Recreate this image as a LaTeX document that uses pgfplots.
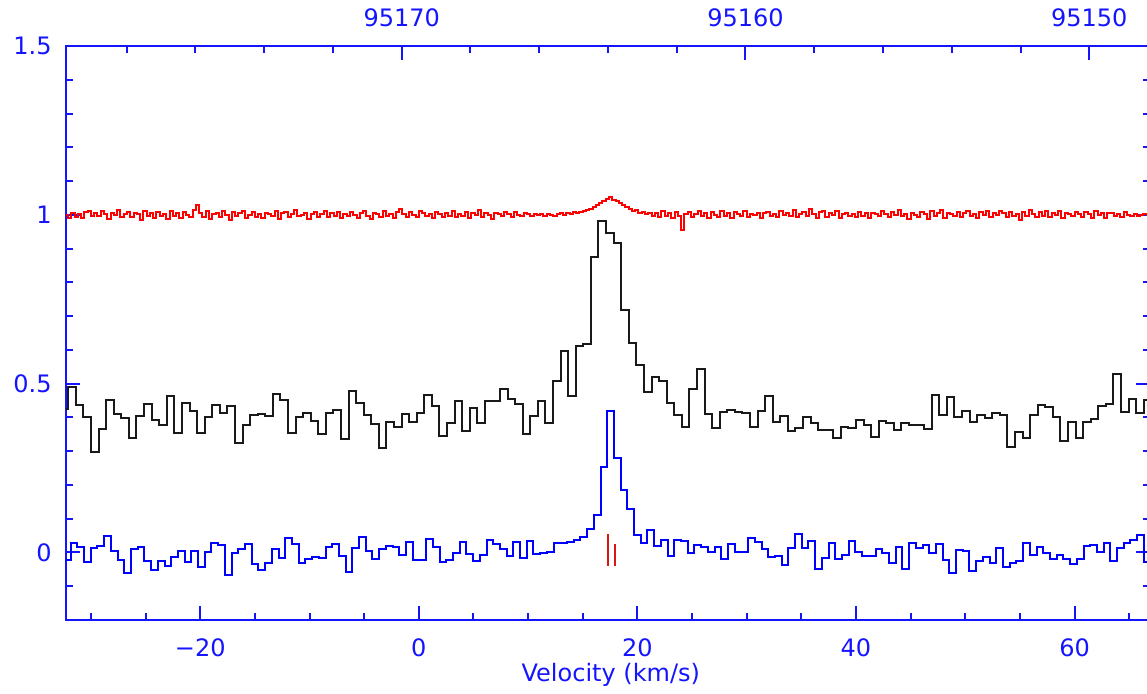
\documentclass[border=0pt]{standalone}
\usepackage{pgfplots}
\pgfplotsset{compat=1.18}
\usepackage{fontspec}
\setmainfont{DejaVu Sans}
\definecolor{axblue}{RGB}{20,20,255}
\definecolor{specred}{RGB}{255,0,0}
\definecolor{specblue}{RGB}{0,0,255}
\definecolor{specblack}{RGB}{25,25,25}
\definecolor{markred}{RGB}{220,20,20}
\begin{document}
\begin{tikzpicture}
\useasboundingbox (-33pt,-36.5pt) rectangle (540.5pt,310pt);
\begin{axis}[
  at={(0pt,0pt)}, anchor=south west,
  scale only axis, width=542pt, height=287pt,
  xmin=-32.28, xmax=66.90, ymin=-0.2, ymax=1.5,
  axis line style={axblue, line width=1pt},
  tick style={axblue, line width=1pt},
  tick align=inside,
  major tick length=7pt, minor tick length=3.5pt,
  xtick={-20,0,20,40,60},
  xticklabels={−20,0,20,40,60},
  minor xtick={-30,-25,-15,-10,-5,5,10,15,25,30,35,45,50,55,65},
  xtick pos=left,
  ytick={0,0.5,1,1.5},
  yticklabels={0,0.5,1,1.5},
  minor ytick={-0.1,0.1,0.2,0.3,0.4,0.6,0.7,0.8,0.9,1.1,1.2,1.3,1.4},
  ytick pos=both,
  yticklabel pos=left,
  tick label style={font=\fontsize{12}{14}\selectfont, text=axblue, inner sep=0pt},
  xticklabel style={anchor=base, yshift=-18pt},
  yticklabel style={anchor=east, xshift=-7pt},
  xlabel={Velocity (km/s)},
  xlabel style={font=\fontsize{12}{14}\selectfont, text=axblue, at={(axis description cs:0.5,0)}, anchor=base, yshift=-30.9pt, xshift=1.4pt, inner sep=0pt},
  every axis plot/.append style={const plot, line width=1pt, mark=none},
]
% red high-resolution spectrum
\addplot[specred] coordinates {
(-32.4,1.000)(-32.1,0.992)(-31.8,1.006)(-31.5,0.995)(-31.2,1.003)(-30.9,0.990)(-30.6,1.008)(-30.3,1.012)(-30.0,0.996)(-29.7,1.004)
(-29.4,0.997)(-29.1,1.010)(-28.8,1.002)(-28.5,0.988)(-28.2,1.005)(-27.9,0.999)(-27.6,1.014)(-27.3,0.994)(-27.0,1.003)(-26.7,1.009)
(-26.4,0.993)(-26.1,1.006)(-25.8,1.001)(-25.5,0.986)(-25.2,1.011)(-24.9,0.998)(-24.6,1.004)(-24.3,0.991)(-24.0,1.007)(-23.7,0.996)
(-23.4,1.002)(-23.1,0.989)(-22.8,1.010)(-22.5,0.997)(-22.2,1.005)(-21.9,0.992)(-21.6,1.009)(-21.3,1.000)(-21.0,0.994)(-20.7,1.015)
(-20.4,1.030)(-20.1,1.004)(-19.8,0.995)(-19.5,1.010)(-19.2,0.988)(-18.9,1.002)(-18.6,1.006)(-18.3,0.993)(-18.0,1.011)(-17.7,0.999)
(-17.4,0.985)(-17.1,1.007)(-16.8,0.996)(-16.5,1.004)(-16.2,1.012)(-15.9,0.991)(-15.6,1.000)(-15.3,1.008)(-15.0,0.994)(-14.7,1.003)
(-14.4,0.990)(-14.1,1.006)(-13.8,1.001)(-13.5,0.997)(-13.2,1.010)(-12.9,0.987)(-12.6,1.004)(-12.3,1.009)(-12.0,0.995)(-11.7,1.002)
(-11.4,1.013)(-11.1,0.996)(-10.8,0.999)(-10.5,1.006)(-10.2,0.989)(-9.9,1.003)(-9.6,1.008)(-9.3,0.993)(-9.0,1.001)(-8.7,1.011)
(-8.4,0.994)(-8.1,1.005)(-7.8,0.998)(-7.5,1.009)(-7.2,0.990)(-6.9,1.002)(-6.6,0.996)(-6.3,1.007)(-6.0,1.000)(-5.7,0.992)
(-5.4,1.004)(-5.1,1.010)(-4.8,0.997)(-4.5,0.989)(-4.2,1.006)(-3.9,1.001)(-3.6,0.994)(-3.3,1.012)(-3.0,0.998)(-2.7,1.003)
(-2.4,0.991)(-2.1,1.007)(-1.8,1.016)(-1.5,1.002)(-1.2,0.995)(-0.9,1.008)(-0.6,0.999)(-0.3,0.993)(0.0,1.010)(0.3,1.004)
(0.6,0.996)(0.9,1.003)(1.2,0.990)(1.5,1.009)(1.8,1.001)(2.1,0.995)(2.4,1.006)(2.7,0.998)(3.0,1.011)(3.3,0.993)
(3.6,1.002)(3.9,0.997)(4.2,1.008)(4.5,0.992)(4.8,1.004)(5.1,1.000)(5.4,1.013)(5.7,0.995)(6.0,1.006)(6.3,0.999)
(6.6,0.988)(6.9,1.005)(7.2,1.001)(7.5,0.996)(7.8,1.009)(8.1,1.003)(8.4,0.994)(8.7,1.007)(9.0,1.000)(9.3,0.997)
(9.6,1.004)(9.9,1.002)(10.2,0.996)(10.5,1.001)(10.8,0.999)(11.1,1.003)(11.4,0.998)(11.7,1.002)(12.0,1.000)(12.3,0.997)
(12.6,1.002)(12.9,1.004)(13.2,0.999)(13.5,1.006)(13.8,1.003)(14.1,1.007)(14.4,1.005)(14.7,1.009)(15.0,1.011)(15.3,1.014)
(15.6,1.018)(15.9,1.022)(16.2,1.028)(16.5,1.034)(16.8,1.040)(17.1,1.046)(17.4,1.053)(17.7,1.043)(18.0,1.040)(18.3,1.034)
(18.6,1.030)(18.9,1.024)(19.2,1.018)(19.5,1.012)(19.8,1.014)(20.1,1.006)(20.4,1.009)(20.7,1.001)(21.0,1.005)(21.3,0.997)
(21.6,1.006)(21.9,0.993)(22.2,1.010)(22.5,0.998)(22.8,1.004)(23.1,0.990)(23.4,1.008)(23.7,0.996)(24.0,0.956)(24.3,1.002)
(24.6,1.009)(24.9,0.994)(25.2,1.003)(25.5,1.011)(25.8,0.997)(26.1,1.005)(26.4,0.991)(26.7,1.007)(27.0,1.000)(27.3,0.995)
(27.6,1.012)(27.9,0.998)(28.2,1.004)(28.5,0.990)(28.8,1.008)(29.1,1.001)(29.4,0.996)(29.7,1.010)(30.0,0.993)(30.3,1.003)
(30.6,0.999)(30.9,1.006)(31.2,0.991)(31.5,1.004)(31.8,1.009)(32.1,0.997)(32.4,1.002)(32.7,0.994)(33.0,1.011)(33.3,1.000)
(33.6,1.005)(33.9,0.996)(34.2,1.013)(34.5,0.993)(34.8,1.003)(35.1,1.008)(35.4,0.998)(35.7,1.016)(36.0,1.001)(36.3,0.991)
(36.6,1.007)(36.9,1.012)(37.2,0.995)(37.5,1.004)(37.8,0.999)(38.1,1.010)(38.4,0.992)(38.7,1.003)(39.0,1.006)(39.3,0.997)
(39.6,1.002)(39.9,0.994)(40.2,1.009)(40.5,0.998)(40.8,1.005)(41.1,0.990)(41.4,1.004)(41.7,1.001)(42.0,0.996)(42.3,1.011)
(42.6,1.003)(42.9,0.993)(43.2,1.007)(43.5,0.999)(43.8,1.014)(44.1,0.996)(44.4,1.002)(44.7,0.989)(45.0,1.006)(45.3,1.000)
(45.6,0.995)(45.9,1.008)(46.2,1.003)(46.5,0.987)(46.8,1.010)(47.1,0.998)(47.4,1.004)(47.7,1.013)(48.0,0.992)(48.3,1.006)
(48.6,1.001)(48.9,0.996)(49.2,1.009)(49.5,0.994)(49.8,1.005)(50.1,1.011)(50.4,0.997)(50.7,1.003)(51.0,0.990)(51.3,1.007)
(51.6,1.000)(51.9,1.010)(52.2,0.993)(52.5,1.006)(52.8,0.999)(53.1,1.012)(53.4,1.004)(53.7,0.995)(54.0,1.008)(54.3,0.997)
(54.6,1.003)(54.9,0.984)(55.2,1.009)(55.5,0.996)(55.8,1.014)(56.1,1.001)(56.4,0.993)(56.7,1.007)(57.0,0.998)(57.3,1.011)
(57.6,0.994)(57.9,1.005)(58.2,1.000)(58.5,1.012)(58.8,0.991)(59.1,1.006)(59.4,1.003)(59.7,0.997)(60.0,1.009)(60.3,1.001)
(60.6,0.995)(60.9,1.008)(61.2,1.002)(61.5,0.992)(61.8,1.010)(62.1,0.999)(62.4,1.005)(62.7,0.990)(63.0,1.004)(63.3,1.006)
(63.6,0.997)(63.9,1.003)(64.2,0.993)(64.5,1.007)(64.8,1.000)(65.1,0.996)(65.4,1.002)(65.7,0.998)(66.0,0.999)(66.3,1.001)(66.6,1.000)(66.9,1.000)
};
% black spectrum
\addplot[specblack] coordinates {
(-32.76,0.426)(-32.07,0.490)(-31.38,0.436)(-30.68,0.401)(-29.99,0.298)(-29.30,0.365)(-28.61,0.451)(-27.91,0.411)(-27.22,0.398)(-26.53,0.340)
(-25.83,0.404)(-25.14,0.441)(-24.45,0.391)(-23.75,0.377)(-23.06,0.463)(-22.37,0.355)(-21.68,0.444)(-20.98,0.418)(-20.29,0.355)(-19.60,0.401)
(-18.90,0.436)(-18.21,0.414)(-17.52,0.433)(-16.82,0.325)(-16.13,0.377)(-15.44,0.408)(-14.75,0.411)(-14.05,0.404)(-13.36,0.468)(-12.67,0.451)
(-11.97,0.354)(-11.28,0.401)(-10.59,0.414)(-9.89,0.388)(-9.20,0.350)(-8.51,0.414)(-7.82,0.423)(-7.12,0.335)(-6.43,0.477)(-5.74,0.443)
(-5.04,0.406)(-4.35,0.380)(-3.66,0.310)(-2.96,0.385)(-2.27,0.372)(-1.58,0.411)(-0.89,0.386)(-0.19,0.414)(0.50,0.465)(1.19,0.433)
(1.89,0.345)(2.58,0.383)(3.27,0.449)(3.97,0.360)(4.66,0.429)(5.35,0.383)(6.05,0.448)(6.74,0.449)(7.43,0.483)(8.12,0.454)
(8.82,0.439)(9.51,0.350)(10.20,0.403)(10.90,0.448)(11.59,0.382)(12.28,0.508)(12.98,0.596)(13.67,0.463)(14.36,0.611)(15.05,0.616)
(15.75,0.875)(16.44,0.983)(17.13,0.946)(17.83,0.916)(18.52,0.717)(19.21,0.621)(19.91,0.556)(20.60,0.475)(21.29,0.520)(21.98,0.508)
(22.68,0.444)(23.37,0.408)(24.06,0.372)(24.76,0.483)(25.45,0.542)(26.14,0.411)(26.84,0.369)(27.53,0.416)(28.22,0.421)(28.91,0.416)
(29.61,0.414)(30.30,0.372)(30.99,0.419)(31.69,0.462)(32.38,0.386)(33.07,0.403)(33.77,0.359)(34.46,0.369)(35.15,0.401)(35.84,0.383)
(36.54,0.364)(37.23,0.362)(37.92,0.340)(38.62,0.372)(39.31,0.369)(40.00,0.393)(40.70,0.379)(41.39,0.342)(42.08,0.389)(42.77,0.382)
(43.47,0.362)(44.16,0.383)(44.85,0.377)(45.55,0.379)(46.24,0.365)(46.93,0.465)(47.63,0.408)(48.32,0.460)(49.01,0.401)(49.70,0.419)
(50.40,0.386)(51.09,0.408)(51.78,0.398)(52.48,0.414)(53.17,0.408)(53.86,0.311)(54.56,0.357)(55.25,0.339)(55.94,0.408)(56.63,0.438)
(57.33,0.431)(58.02,0.401)(58.71,0.329)(59.41,0.386)(60.10,0.340)(60.79,0.386)(61.49,0.394)(62.18,0.434)(62.87,0.441)(63.56,0.528)
(64.26,0.416)(64.95,0.454)(65.64,0.414)(66.34,0.451)(67.03,0.451)
};
% blue spectrum
\addplot[specblue] coordinates {
(-32.47,-0.023)(-31.85,0.028)(-31.24,0.017)(-30.63,-0.028)(-30.01,0.012)(-29.40,0.020)(-28.79,0.048)(-28.17,0.005)(-27.56,-0.023)(-26.94,-0.062)
(-26.33,0.010)(-25.72,0.015)(-25.10,-0.026)(-24.49,-0.052)(-23.88,-0.026)(-23.26,-0.041)(-22.65,-0.013)(-22.04,0.005)(-21.42,-0.028)(-20.81,0.005)
(-20.19,-0.044)(-19.58,0.002)(-18.97,0.027)(-18.35,0.022)(-17.74,-0.067)(-17.13,-0.003)(-16.51,0.010)(-15.90,0.024)(-15.28,-0.035)(-14.67,-0.052)
(-14.06,-0.030)(-13.44,0.009)(-12.83,-0.015)(-12.22,0.044)(-11.60,0.025)(-10.99,-0.030)(-10.37,-0.020)(-9.76,-0.013)(-9.15,-0.015)(-8.53,0.015)
(-7.92,0.024)(-7.31,-0.011)(-6.69,-0.059)(-6.08,0.014)(-5.47,0.046)(-4.85,0.005)(-4.24,-0.020)(-3.62,0.010)(-3.01,0.020)(-2.40,0.017)
(-1.78,-0.008)(-1.17,0.031)(-0.56,-0.021)(0.06,-0.023)(0.67,0.041)(1.29,0.017)(1.90,-0.027)(2.51,-0.021)(3.13,-0.001)(3.74,0.031)
(4.35,-0.005)(4.97,-0.025)(5.58,-0.008)(6.20,0.038)(6.81,0.025)(7.42,0.010)(8.04,-0.011)(8.65,0.031)(9.26,-0.015)(9.88,0.034)
(10.49,-0.005)(11.10,-0.003)(11.72,0.002)(12.33,0.029)(12.95,0.029)(13.56,0.031)(14.17,0.038)(14.79,0.046)(15.40,0.071)(16.01,0.110)
(16.63,0.253)(17.24,0.419)(17.86,0.281)(18.47,0.184)(19.08,0.130)(19.70,0.051)(20.31,0.029)(20.92,0.068)(21.54,0.019)(22.15,0.036)
(22.77,-0.011)(23.38,0.036)(23.99,0.034)(24.61,-0.001)(25.22,0.022)(25.83,0.017)(26.45,0.002)(27.06,0.017)(27.68,-0.018)(28.29,0.025)
(28.90,0.002)(29.52,0.002)(30.13,0.044)(30.74,0.031)(31.36,0.011)(31.97,-0.012)(32.58,-0.010)(33.20,-0.038)(33.81,0.012)(34.43,0.056)
(35.04,0.014)(35.65,0.033)(36.27,-0.050)(36.88,-0.015)(37.49,0.027)(38.11,-0.020)(38.72,-0.008)(39.34,0.033)(39.95,0.002)(40.56,-0.011)
(41.18,-0.010)(41.79,0.009)(42.40,-0.001)(43.02,-0.030)(43.63,0.017)(44.25,-0.049)(44.86,0.029)(45.47,0.014)(46.09,0.022)(46.70,-0.003)
(47.31,0.025)(47.93,-0.023)(48.54,-0.060)(49.15,0.007)(49.77,0.004)(50.38,-0.054)(51.00,-0.026)(51.61,-0.013)(52.22,-0.030)(52.84,0.014)
(53.45,-0.043)(54.06,-0.031)(54.68,-0.025)(55.29,0.028)(55.91,-0.008)(56.52,0.015)(57.13,-0.001)(57.75,-0.018)(58.36,-0.008)(58.97,-0.018)
(59.59,-0.033)(60.20,-0.020)(60.82,0.020)(61.43,0.022)(62.04,0.002)(62.66,0.027)(63.27,-0.026)(63.88,0.012)(64.50,0.029)(65.11,0.036)
(65.72,0.053)(66.34,-0.028)(66.95,-0.028)
};
% red line markers
\addplot[markred, sharp plot] coordinates {(17.28,-0.040) (17.28,0.056)};
\addplot[markred, sharp plot] coordinates {(17.98,-0.040) (17.98,0.025)};
\end{axis}
\begin{axis}[
  at={(0pt,0pt)}, anchor=south west,
  scale only axis, width=542pt, height=287pt,
  x dir=reverse, xmin=95148.234, xmax=95179.764, ymin=0, ymax=1,
  axis x line*=top, axis y line=none,
  axis line style={axblue, line width=1pt},
  tick style={axblue, line width=1pt},
  tick align=inside,
  major tick length=7pt, minor tick length=3.5pt,
  xtick={95150,95160,95170},
  xticklabels={95150,95160,95170},
  minor xtick={95152,95154,95156,95158,95162,95164,95166,95168,95172,95174,95176,95178},
  tick label style={font=\fontsize{12}{14}\selectfont, text=axblue, inner sep=0pt},
  xticklabel style={anchor=base, yshift=9.7pt},
]
\end{axis}
\end{tikzpicture}
\end{document}
